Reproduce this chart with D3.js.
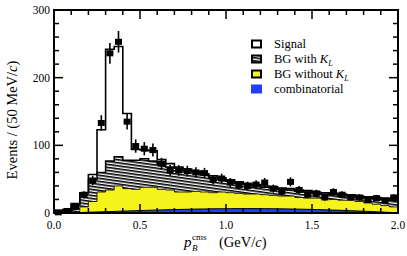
<!DOCTYPE html>
<html>
<head>
<meta charset="utf-8">
<script src="https://cdn.jsdelivr.net/npm/d3@7"></script>
<style>
  body { margin: 0; background: #fff; }
  svg text { font-family: "Liberation Serif", "Times New Roman", serif; fill: #000; }
</style>
</head>
<body>
<svg id="chart" width="407" height="256"></svg>
<script>
// bin width 0.05 GeV/c, 40 bins from 0 to 2.0
var binEdges = d3.range(41).map(function(i) { return +(i * 0.05).toFixed(2); });

// stacked tops (cumulative)
var totalTop = [2, 5, 14, 30, 57, 123, 242, 246, 147, 94, 93, 92, 79, 73, 68, 65, 62, 58, 55, 52,
                49, 46, 44, 42, 40, 39, 37, 36, 34, 33, 31, 30, 29, 28, 27, 25, 24, 23, 22, 21];
var bgKlTop  = [1, 4, 13, 30, 50, 60, 77, 83, 78, 78, 80, 77, 72, 68, 66, 63, 61, 56, 53, 50,
                47, 44, 42, 40, 38, 37, 35, 34, 32, 31, 29, 28, 27, 26, 25, 23, 22, 21, 20, 19];
var bgNoKlTop = [0, 0.5, 2, 9, 17, 31, 34, 40, 36, 35, 38, 38, 35, 34, 31, 31, 32, 31, 30, 31,
                 30, 29, 28, 28, 27, 26, 25, 25, 23, 22, 22, 21, 20, 19, 19, 17, 15, 13, 11, 9];
var combinatorial = [0, 0.2, 0.5, 0.9, 1.3, 1.7, 2.1, 2.6, 3, 3.4, 3.8, 4.2, 4.6, 4.9, 5.2, 5.5, 5.8, 6, 6.2, 6.3,
                     6.4, 6.5, 6.5, 6.5, 6.4, 6.3, 6.1, 5.9, 5.7, 5.4, 5.1, 4.7, 4.3, 3.9, 3.4, 2.9, 2.4, 1.8, 1.2, 0.6];
var dataCounts = [1, 3, 9, 27, 48, 133, 236, 253, 135, 99, 95, 93, 73, 63, 63, 62, 60, 59, 49, 51,
                  45, 41, 40, 42, 45, 36, 32, 46, 34, 27, 29, 23, 31, 27, 23, 23, 19, 22, 18, 23];

var xTicks = [0, 0.5, 1.0, 1.5, 2.0];
var yTicks = [0, 100, 200, 300];

var svg = d3.select("#chart");
var x = d3.scaleLinear().domain([0, 2]).range([54, 398]);
var y = d3.scaleLinear().domain([0, 300]).range([213, 10]);

var defs = svg.append("defs");
var pat = defs.append("pattern")
    .attr("id", "hatch")
    .attr("patternUnits", "userSpaceOnUse")
    .attr("width", 12).attr("height", 3)
    .attr("patternTransform", "rotate(8)");
pat.append("rect").attr("width", 12).attr("height", 3).attr("fill", "#fff");
pat.append("line").attr("x1", 0).attr("x2", 12).attr("y1", 0.8).attr("y2", 0.8)
    .attr("stroke", "#000").attr("stroke-width", 1.6);

defs.append("clipPath").attr("id", "plotclip")
  .append("rect").attr("x", x(0)).attr("y", y(300)).attr("width", x(2) - x(0)).attr("height", y(0) - y(300));

// step helpers: repeat last value so the last bin closes at 2.0
function stepData(vals) {
  return binEdges.map(function(e, i) { return [e, vals[Math.min(i, vals.length - 1)]]; });
}
var stepArea = d3.area().curve(d3.curveStepAfter)
    .x(function(d) { return x(d[0]); }).y0(y(0)).y1(function(d) { return y(d[1]); });
var stepLine = d3.line().curve(d3.curveStepAfter)
    .x(function(d) { return x(d[0]); }).y(function(d) { return y(d[1]); });

var plot = svg.append("g").attr("clip-path", "url(#plotclip)");

// signal (white) on top of stack
plot.append("path").datum(stepData(totalTop)).attr("d", stepArea).attr("fill", "#fff");
// BG with K_L (hatched)
plot.append("path").datum(stepData(bgKlTop)).attr("d", stepArea).attr("fill", "url(#hatch)");
// BG without K_L (yellow)
plot.append("path").datum(stepData(bgNoKlTop)).attr("d", stepArea).attr("fill", "#f4f41c");

// combinatorial: smooth through bin centres
var combPts = [[0, 0]].concat(combinatorial.map(function(v, i) { return [binEdges[i] + 0.025, v]; })).concat([[2, 0]]);
plot.append("path").datum(combPts)
    .attr("d", d3.area().x(function(d) { return x(d[0]); }).y0(y(0)).y1(function(d) { return y(d[1]); }))
    .attr("fill", "#1f3cff");
plot.append("path").datum(combPts)
    .attr("d", d3.line().x(function(d) { return x(d[0]); }).y(function(d) { return y(d[1]); }))
    .attr("fill", "none").attr("stroke", "#000").attr("stroke-width", 1);

// outlines
plot.append("path").datum(stepData(bgNoKlTop)).attr("d", stepLine)
    .attr("fill", "none").attr("stroke", "#000").attr("stroke-width", 0.8);
plot.append("path").datum(stepData(bgKlTop)).attr("d", stepLine)
    .attr("fill", "none").attr("stroke", "#000").attr("stroke-width", 1.5);
plot.append("path").datum(stepData(totalTop)).attr("d", stepLine)
    .attr("fill", "none").attr("stroke", "#000").attr("stroke-width", 1.6);

// data points with sqrt(N) errors
var pts = svg.append("g");
dataCounts.forEach(function(n, i) {
  var cx = x(binEdges[i] + 0.025);
  var err = Math.sqrt(n);
  pts.append("line")
      .attr("x1", cx).attr("x2", cx)
      .attr("y1", y(Math.max(0, n - err))).attr("y2", y(n + err))
      .attr("stroke", "#000").attr("stroke-width", 1.6);
  pts.append("rect")
      .attr("x", cx - 3.5).attr("y", y(n) - 3)
      .attr("width", 7).attr("height", 6).attr("fill", "#000");
});

// frame and inward ticks
var axes = svg.append("g").attr("stroke", "#000").attr("fill", "none");
axes.append("rect").attr("x", x(0)).attr("y", y(300))
    .attr("width", x(2) - x(0)).attr("height", y(0) - y(300)).attr("stroke-width", 2);

d3.range(0, 301, 20).forEach(function(v) {
  var len = (v % 100 === 0) ? 9 : 5;
  axes.append("line").attr("x1", x(0)).attr("x2", x(0) + len).attr("y1", y(v)).attr("y2", y(v)).attr("stroke-width", 1.5);
  axes.append("line").attr("x1", x(2)).attr("x2", x(2) - len).attr("y1", y(v)).attr("y2", y(v)).attr("stroke-width", 1.5);
});
d3.range(0, 21).forEach(function(k) {
  var v = k / 10;
  var len = (k % 5 === 0) ? 9 : 5;
  axes.append("line").attr("x1", x(v)).attr("x2", x(v)).attr("y1", y(0)).attr("y2", y(0) - len).attr("stroke-width", 1.5);
  axes.append("line").attr("x1", x(v)).attr("x2", x(v)).attr("y1", y(300)).attr("y2", y(300) + len).attr("stroke-width", 1.5);
});

// tick labels
svg.append("g").selectAll("text").data(yTicks).enter().append("text")
    .attr("x", x(0) - 4).attr("y", function(d) { return y(d) + 4; })
    .attr("text-anchor", "end").attr("font-size", 11.5)
    .text(function(d) { return d; });
svg.append("g").selectAll("text").data(xTicks).enter().append("text")
    .attr("x", function(d) { return x(d); }).attr("y", 229)
    .attr("text-anchor", "middle").attr("font-size", 11.5)
    .text(function(d) { return d.toFixed(1); });

// axis titles
var yl = svg.append("text")
    .attr("transform", "translate(17," + 120 + ") rotate(-90)")
    .attr("text-anchor", "middle").attr("font-size", 14.5);
yl.append("tspan").text("Events / (50 MeV/");
yl.append("tspan").attr("font-style", "italic").text("c");
yl.append("tspan").text(")");

// x title: p with sub B and sup cms, then (GeV/c)
var xl = svg.append("g");
xl.append("text").attr("x", 184).attr("y", 247).attr("font-size", 15)
    .attr("font-style", "italic").text("p");
xl.append("text").attr("x", 192).attr("y", 240).attr("font-size", 9).text("cms");
xl.append("text").attr("x", 192).attr("y", 251).attr("font-size", 9)
    .attr("font-style", "italic").text("B");
var xu = xl.append("text").attr("x", 219).attr("y", 247).attr("font-size", 14.5);
xu.append("tspan").text("(GeV/");
xu.append("tspan").attr("font-style", "italic").text("c");
xu.append("tspan").text(")");

// legend
var legendItems = [
  { label: "Signal", fill: "#fff", stroke: true },
  { label: "BG with ", kl: true, fill: "url(#hatch)", stroke: true },
  { label: "BG without ", kl: true, fill: "#f4f41c", stroke: true },
  { label: "combinatorial", fill: "#1f3cff", stroke: false }
];
var lg = svg.append("g");
legendItems.forEach(function(it, i) {
  var cy = 44 + i * 15;
  if (it.stroke) {
    lg.append("rect").attr("x", 252).attr("y", cy - 3.5).attr("width", 9).attr("height", 7)
        .attr("fill", it.fill).attr("stroke", "#000").attr("stroke-width", 2);
  } else {
    lg.append("rect").attr("x", 251).attr("y", cy - 4.5).attr("width", 11).attr("height", 9)
        .attr("fill", it.fill);
  }
  var t = lg.append("text").attr("x", 274).attr("y", cy + 4).attr("font-size", 12.5);
  t.append("tspan").text(it.label);
  if (it.kl) {
    t.append("tspan").attr("font-style", "italic").text("K");
    t.append("tspan").attr("font-style", "italic").attr("font-size", 8).attr("dy", 3).text("L");
  }
});
</script>
</body>
</html>
